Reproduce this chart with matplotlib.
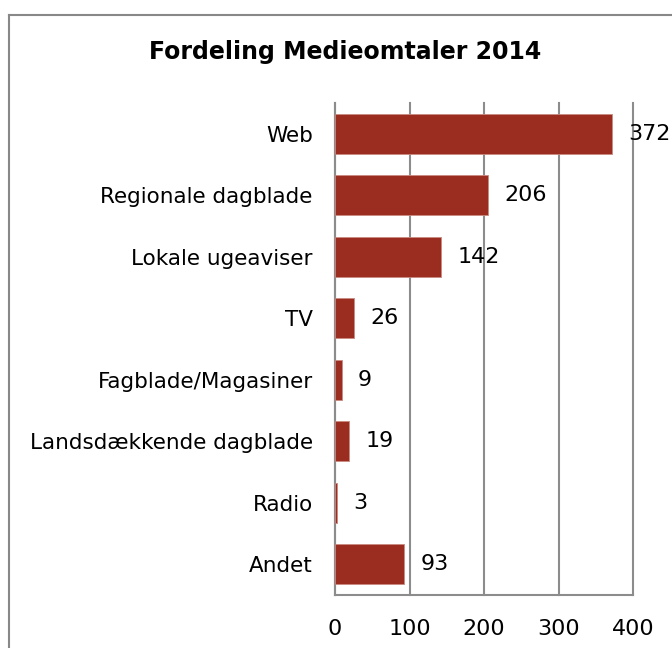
import matplotlib.pyplot as plt
from matplotlib.lines import Line2D

# data
categories = ['Web', 'Regionale dagblade', 'Lokale ugeaviser', 'TV',
              'Fagblade/Magasiner', 'Landsdækkende dagblade', 'Radio', 'Andet']
values = [372, 206, 142, 26, 9, 19, 3, 93]
xticks = [0, 100, 200, 300, 400]

plt.rcParams['font.family'] = ['DejaVu Sans']

bar_color = '#9B2D20'
grid_color = '#8C8C8C'

fig = plt.figure(figsize=(6.72, 6.48), dpi=100)
ax = fig.add_axes([335 / 672, 1 - 595 / 648, 298 / 672, 492 / 648])

y = list(range(len(categories)))
ax.barh(y, values, height=0.65, color=bar_color, edgecolor='#C98A80',
        linewidth=0.6, zorder=3)

for yi, v in zip(y, values):
    ax.text(v + 22, yi, str(v), ha='left', va='center', fontsize=16,
            color='black', zorder=4, clip_on=False)

ax.set_xlim(0, 400)
ax.set_ylim(len(categories) - 0.5, -0.5)
ax.set_xticks(xticks)
ax.set_yticks(y)
ax.set_yticklabels(categories)
ax.tick_params(axis='both', length=0, labelsize=15.5)
ax.tick_params(axis='y', pad=16)
ax.tick_params(axis='x', pad=17, labelsize=16)
ax.grid(axis='x', color=grid_color, linewidth=1.5, zorder=0)
for gl in ax.get_xgridlines():
    gl.set_clip_on(False)

for s in ['top', 'right']:
    ax.spines[s].set_visible(False)
for s in ['left', 'bottom']:
    ax.spines[s].set_color(grid_color)
    ax.spines[s].set_linewidth(1.5)

fig.text(345 / 672, 1 - 52 / 648, 'Fordeling Medieomtaler 2014',
         ha='center', va='center', fontsize=17, fontweight='bold')

# chart border (cut off at right and bottom)
fig.add_artist(Line2D([8.5 / 672, 8.5 / 672], [0, 1 - 14.5 / 648],
                      transform=fig.transFigure, color='#888888', linewidth=1.5))
fig.add_artist(Line2D([8.5 / 672, 1], [1 - 14.5 / 648, 1 - 14.5 / 648],
                      transform=fig.transFigure, color='#888888', linewidth=1.5))

fig.savefig('out.png', dpi=100)
